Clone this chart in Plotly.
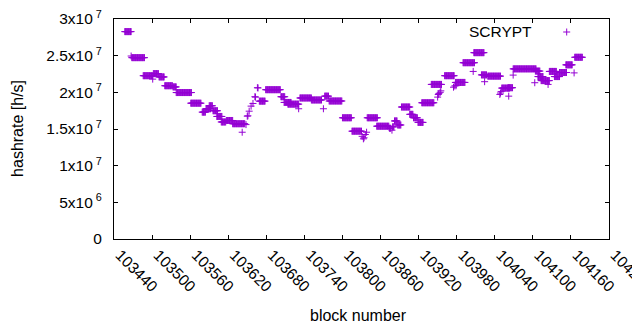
import plotly.graph_objects as go

# ---- data (hashrate in units of 1e7 h/s) ----
# runs of consecutive blocks sharing the same hashrate value
run_from = [103457, 103468, 103486, 103502, 103511, 103520, 103533, 103538, 103561, 103579,
            103585, 103590, 103596, 103602, 103609, 103617, 103627, 103669, 103679, 103703,
            103708, 103714, 103733, 103751, 103772, 103779, 103800, 103815, 103839, 103854,
            103874, 103879, 103882, 103887, 103893, 103906, 103912, 103919, 103925, 103940,
            103961, 103978, 103990, 104007, 104019, 104029, 104051, 104061, 104069, 104104,
            104108, 104113, 104126, 104134, 104142, 104152, 104166]
run_to = [103467, 103488, 103501, 103510, 103519, 103532, 103538, 103562, 103577, 103584,
          103592, 103595, 103603, 103610, 103616, 103627, 103646, 103678, 103702, 103709,
          103719, 103731, 103751, 103767, 103778, 103799, 103814, 103830, 103855, 103873,
          103876, 103881, 103886, 103892, 103906, 103911, 103918, 103927, 103944, 103956,
          103976, 103993, 104008, 104023, 104027, 104049, 104063, 104068, 104105, 104111,
          104116, 104126, 104137, 104142, 104153, 104162, 104178]
run_val = [2.828, 2.473, 2.227, 2.255, 2.210, 2.090, 2.074, 1.997, 1.852, 1.730,
           1.776, 1.817, 1.749, 1.671, 1.596, 1.616, 1.572, 1.880, 2.036, 1.940,
           1.862, 1.839, 1.923, 1.896, 1.948, 1.882, 1.653, 1.470, 1.653, 1.538,
           1.510, 1.530, 1.610, 1.555, 1.800, 1.700, 1.653, 1.590, 1.858, 2.108,
           2.227, 2.135, 2.404, 2.541, 2.238, 2.221, 2.058, 2.063, 2.320, 2.290,
           2.215, 2.160, 2.285, 2.215, 2.270, 2.375, 2.478]
# isolated blocks
pt_block = [103467, 103501, 103642, 103648, 103650, 103651, 103653, 103656, 103659, 103662,
            103663, 103666, 103667, 103731, 103770, 103831, 103833, 103834, 103836, 103838,
            103878, 103950, 103951, 103952, 103954, 103955, 103975, 103977, 103979, 104006,
            104024, 104048, 104049, 104050, 104062, 104069, 104103, 104124, 104165]
pt_val = [2.495, 2.180, 1.456, 1.560, 1.675, 1.680, 1.743, 1.812, 1.848, 1.940,
          1.935, 2.063, 2.060, 1.776, 1.776, 1.400, 1.366, 1.380, 1.425, 1.456,
          1.484, 1.935, 1.970, 1.985, 2.000, 2.020, 2.070, 2.087, 2.090, 2.285,
          2.145, 1.971, 1.990, 2.010, 1.948, 2.235, 2.131, 2.108, 2.265]

x_ticks = list(range(103440, 104221, 60))
y_ticks = [0, 5e6, 1e7, 1.5e7, 2e7, 2.5e7, 3e7]
y_ticktext = ["0", "5x10<sup> 6</sup>", "1x10<sup> 7</sup>", "1.5x10<sup> 7</sup>",
              "2x10<sup> 7</sup>", "2.5x10<sup> 7</sup>", "3x10<sup> 7</sup>"]

# expand runs into per-block points
xs, ys = [], []
for a, b, v in zip(run_from, run_to, run_val):
    for blk in range(a, b + 1):
        xs.append(blk)
        ys.append(v * 1e7)
for blk, v in zip(pt_block, pt_val):
    xs.append(blk)
    ys.append(v * 1e7)

COLOR = "#9400D3"
FONT = "Liberation Sans, Arial, sans-serif"
FS = 15.5
FS_TITLE = 16

fig = go.Figure()
fig.add_trace(go.Scatter(
    x=xs, y=ys, mode="markers", name="SCRYPT",
    marker=dict(symbol="cross-thin", size=5, color=COLOR,
                line=dict(color=COLOR, width=1)),
    showlegend=False,
))

axis_common = dict(
    showline=True, linecolor="black", linewidth=1, mirror="ticks",
    ticks="inside", ticklen=4, tickwidth=1, tickcolor="black",
    showgrid=False, zeroline=False, automargin=False,
    ticklabeloverflow="allow",
    tickfont=dict(family=FONT, size=FS, color="black"),
)

fig.update_xaxes(range=[103440, 104220], tickvals=x_ticks,
                 ticktext=[str(t) for t in x_ticks], tickangle=45,
                 ticklabelshift=6, **axis_common)
fig.update_yaxes(range=[0, 3e7], tickvals=y_ticks, ticktext=y_ticktext,
                 ticklabelstandoff=8, **axis_common)

# page offset: the html body has an 8px margin
OFF = 8
FW, FH = 640 - OFF, 330 - OFF
L, R, T, B = 114.3, 609.3, 19.3, 239.3   # plot-area edges in page pixels
W, H = R - L, B - T

def px(xp):
    return (xp - L) / W

def py(yp):
    return (B - yp) / H

annotations = [
    dict(text="hashrate [h/s]", x=px(17), y=py(128.5), xref="paper", yref="paper",
         textangle=-90, showarrow=False, xanchor="center", yanchor="middle",
         font=dict(family=FONT, size=FS_TITLE, color="black")),
    dict(text="block number", x=px(358.5), y=py(316), xref="paper", yref="paper",
         showarrow=False, xanchor="center", yanchor="middle",
         font=dict(family=FONT, size=FS_TITLE, color="black")),
    dict(text="SCRYPT", x=px(534), y=py(32), xref="paper", yref="paper",
         showarrow=False, xanchor="right", yanchor="middle",
         font=dict(family=FONT, size=FS, color="black")),
]

# legend key "+"
kx, ky, k = 567, 32.3, 3.5
shapes = [
    dict(type="line", xref="paper", yref="paper", x0=px(kx - k), x1=px(kx + k),
         y0=py(ky), y1=py(ky), line=dict(color=COLOR, width=1)),
    dict(type="line", xref="paper", yref="paper", x0=px(kx), x1=px(kx),
         y0=py(ky - k), y1=py(ky + k), line=dict(color=COLOR, width=1)),
]

fig.update_layout(
    width=FW, height=FH,
    margin=dict(l=L - OFF, r=640 - R, t=T - OFF, b=330 - B, pad=0, autoexpand=False),
    paper_bgcolor="white", plot_bgcolor="white",
    annotations=annotations, shapes=shapes,
    font=dict(family=FONT, size=FS, color="black"),
)

fig.write_html("out.html")
